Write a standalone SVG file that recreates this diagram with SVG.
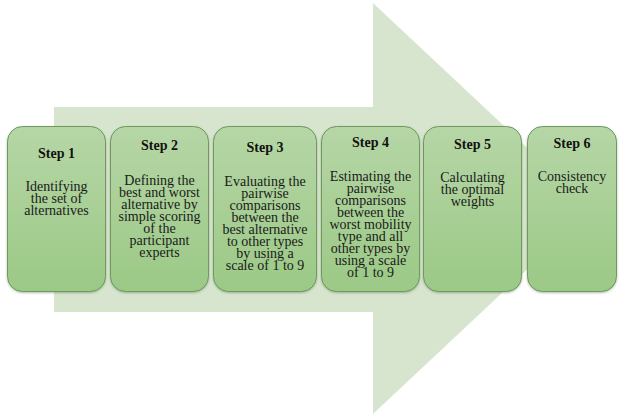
<svg xmlns="http://www.w3.org/2000/svg" width="619" height="415" viewBox="0 0 619 415">
  <defs>
    <linearGradient id="boxFill" x1="0" y1="0" x2="0" y2="1">
      <stop offset="0" stop-color="#b6d6a6"/>
      <stop offset="1" stop-color="#9bc986"/>
    </linearGradient>
    <filter id="soft" x="-10%" y="-10%" width="120%" height="120%">
      <feDropShadow dx="0" dy="1" stdDeviation="0.8" flood-color="#4d6b40" flood-opacity="0.45"/>
    </filter>
  </defs>
  <style>
    .box { fill: url(#boxFill); stroke: #6f9960; stroke-width: 1; filter: url(#soft); }
    .title { font-family: "Liberation Serif", "Times New Roman", serif; font-size: 14px; font-weight: bold; fill: #111; text-anchor: middle; }
    .body { font-family: "Liberation Serif", "Times New Roman", serif; font-size: 14px; fill: #1a1a1a; text-anchor: middle; }
  </style>
  <rect width="619" height="415" fill="#ffffff"/>

  <!-- background process arrow -->
  <g id="arrow">
    <polygon points="54,107 373,107 373,3 592,208.5 373,414 373,312 54,312" fill="#d7e5cf"/>
  </g>

  <g id="connectors"></g>

  <g id="step1">
    <rect class="box" x="7.5" y="126.5" width="98" height="165" rx="15"/>
    <text class="title" x="56.5" y="158">Step 1</text>
    <text class="body" x="56.5" y="191">Identifying</text>
    <text class="body" x="56.5" y="203">the set of</text>
    <text class="body" x="56.5" y="215">alternatives</text>
  </g>

  <g id="step2">
    <rect class="box" x="110.5" y="126.5" width="98" height="165" rx="15"/>
    <text class="title" x="159.5" y="150">Step 2</text>
    <text class="body" x="159.5" y="185">Defining the</text>
    <text class="body" x="159.5" y="197">best and worst</text>
    <text class="body" x="159.5" y="209">alternative by</text>
    <text class="body" x="159.5" y="221">simple scoring</text>
    <text class="body" x="159.5" y="233">of the</text>
    <text class="body" x="159.5" y="245">participant</text>
    <text class="body" x="159.5" y="257">experts</text>
  </g>

  <g id="step3">
    <rect class="box" x="213.5" y="126.5" width="103" height="165" rx="15"/>
    <text class="title" x="265" y="152">Step 3</text>
    <text class="body" x="265" y="186">Evaluating the</text>
    <text class="body" x="265" y="198">pairwise</text>
    <text class="body" x="265" y="210">comparisons</text>
    <text class="body" x="265" y="222">between the</text>
    <text class="body" x="265" y="234">best alternative</text>
    <text class="body" x="265" y="246">to other types</text>
    <text class="body" x="265" y="258">by using a</text>
    <text class="body" x="265" y="270">scale of 1 to 9</text>
  </g>

  <g id="step4">
    <rect class="box" x="321.5" y="126.5" width="98" height="165" rx="15"/>
    <text class="title" x="370.5" y="147">Step 4</text>
    <text class="body" x="370.5" y="181">Estimating the</text>
    <text class="body" x="370.5" y="193">pairwise</text>
    <text class="body" x="370.5" y="205">comparisons</text>
    <text class="body" x="370.5" y="217">between the</text>
    <text class="body" x="370.5" y="229">worst mobility</text>
    <text class="body" x="370.5" y="241">type and all</text>
    <text class="body" x="370.5" y="253">other types by</text>
    <text class="body" x="370.5" y="265">using a scale</text>
    <text class="body" x="370.5" y="277">of 1 to 9</text>
  </g>

  <g id="step5">
    <rect class="box" x="423.5" y="126.5" width="98" height="165" rx="15"/>
    <text class="title" x="472.5" y="149">Step 5</text>
    <text class="body" x="472.5" y="182">Calculating</text>
    <text class="body" x="472.5" y="194">the optimal</text>
    <text class="body" x="472.5" y="206">weights</text>
  </g>

  <g id="step6">
    <rect class="box" x="527.5" y="126.5" width="89" height="165" rx="15"/>
    <text class="title" x="572" y="148">Step 6</text>
    <text class="body" x="572" y="181">Consistency</text>
    <text class="body" x="572" y="193">check</text>
  </g>
</svg>
